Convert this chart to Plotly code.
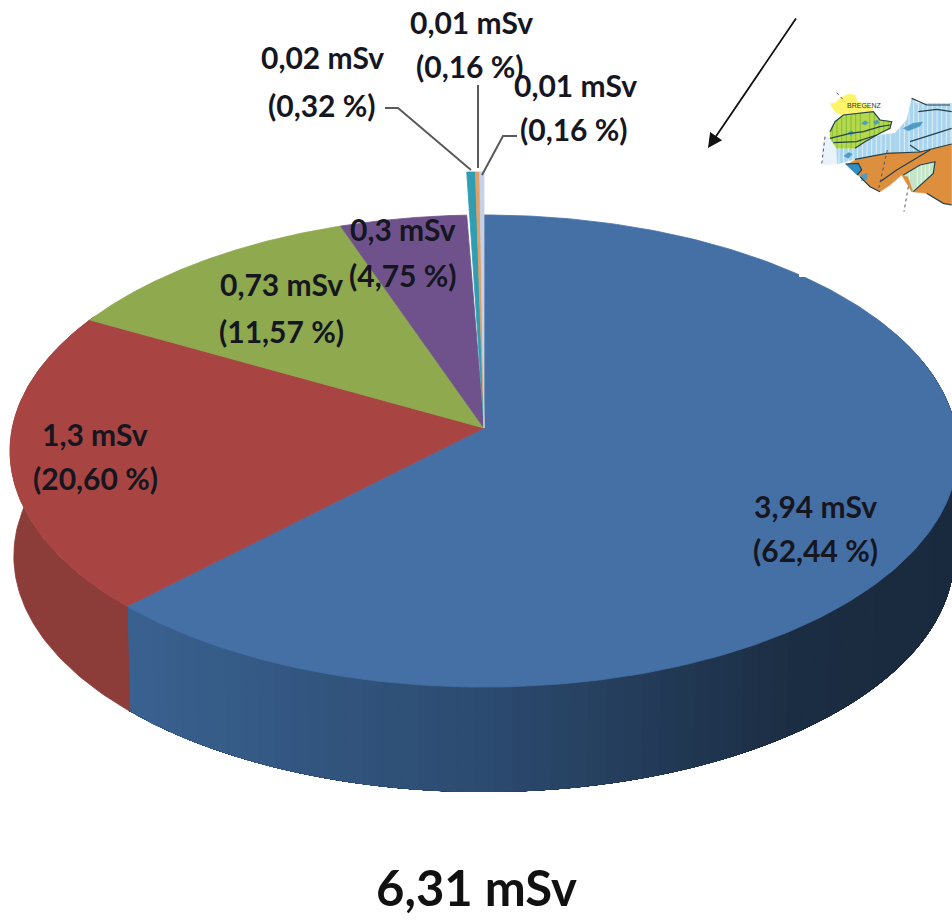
import numpy as np
import plotly.graph_objects as go

# Annual dose shares, clockwise from twelve o'clock
dose_msv = ["3,94", "1,3", "0,73", "0,3", "0,02", "0,01", "0,01"]
share_pct = [62.44, 20.60, 11.57, 4.75, 0.32, 0.16, 0.16]
total_label = "6,31 mSv"
slice_colors = ["#4570A6", "#A84543", "#8EA94E", "#6F528C", "#2F9DB2", "#E0A066", "#C3D2EA"]
wall_stops = [(130, (58, 98, 145)), (500, (44, 75, 112)), (800, (28, 46, 68)), (960, (26, 42, 62))]
red_wall = "#8C3C39"

# Label anchors: line one centre, line two centre
label_xy = [(815, 506, 815, 550), (95, 434, 95, 478), (281, 284, 281, 331), (403, 229, 403, 275),
            (322, 57, 322, 105), (471, 22, 470, 66), (575, 85, 574, 129)]

# Pie projection parameters, in page pixels
CX, CY, RX, RY, K = 484, 428, 471.7, 233.8, 0.0975
DEPTH, FOOT_SCALE, SLIVER_LIFT = 105, 0.992, 43


def rim(theta):
    u, v = np.sin(theta), np.cos(theta)
    d = 1 + K * v
    return CX + RX * u / d, CY - RY * v / d


def foot(theta):
    x, y = rim(theta)
    return CX + (x - CX) * FOOT_SCALE, y + DEPTH


def wall_color(x):
    xs = [s[0] for s in wall_stops]
    rgb = [np.interp(x, xs, [s[1][i] for s in wall_stops]) for i in range(3)]
    return "rgb(%d,%d,%d)" % tuple(rgb)


def poly(x, y, color, width=0.8):
    return go.Scatter(x=list(x), y=list(y), mode="lines", fill="toself", fillcolor=color,
                      line=dict(color=color, width=width), hoverinfo="skip")


edges = 2 * np.pi * np.concatenate([[0], np.cumsum(share_pct)]) / 100
fig = go.Figure()

# Side wall: each blue band runs on under the next one, so no seams show between bands.
# Both ends reach past the silhouette and are hidden by the top face.
start, stop = np.radians(60), np.radians(300)
wall_edges = np.linspace(start, edges[1], 80)
for a in wall_edges[:-1]:
    t = np.linspace(a, edges[1], 60)
    x, y = rim(t)
    fx, fy = foot(t)
    fig.add_trace(poly(np.r_[x, fx[::-1], x[0]], np.r_[y, fy[::-1], y[0]], wall_color(x[0]), 0))
t = np.linspace(edges[1], stop, 80)
x, y = rim(t)
fx, fy = foot(t)
fig.add_trace(poly(np.r_[x, fx[::-1], x[0]], np.r_[y, fy[::-1], y[0]], red_wall))

# Top face of the four large slices
for i in range(4):
    t = np.linspace(edges[i], edges[i + 1], 240)
    x, y = rim(t)
    fig.add_trace(poly(np.r_[CX, x, CX], np.r_[CY, y, CY], slice_colors[i]))

# The three slivers stand proud of the rim
for i in range(4, 7):
    xa, ya = rim(edges[i]); xb, yb = rim(edges[i + 1])
    top = min(ya, yb) - SLIVER_LIFT
    fig.add_trace(poly([CX, xa, xb, CX], [CY, top, top, CY], slice_colors[i]))

# Leader lines
for lx, ly in [([385, 398, 471], [108, 108, 170]),
               ([478, 478], [85, 168]),
               ([517, 503, 482], [136, 136, 175])]:
    fig.add_trace(go.Scatter(x=lx, y=ly, mode="lines", line=dict(color="#5a5a5a", width=2), hoverinfo="skip"))

# White panel that the inset map sits on; it trims the pie's upper right rim
fig.add_trace(poly([799, 952, 952, 799, 799], [60, 60, 277, 277, 60], "white", 0))


# Inset map of the region, outlined in a 3x local grid
def mp(points):
    return [780 + p[0] / 3 for p in points], [70 + p[1] / 3 for p in points]


def stripes(points, step, color, width):
    """Vertical hatch lines clipped to a closed outline."""
    xs = np.array([p[0] for p in points], float)
    ys = np.array([p[1] for p in points], float)
    out_x, out_y = [], []
    for sx in np.arange(xs.min() + step / 2, xs.max(), step):
        hits = []
        for j in range(len(xs) - 1):
            if (xs[j] - sx) * (xs[j + 1] - sx) < 0:
                hits.append(ys[j] + (sx - xs[j]) * (ys[j + 1] - ys[j]) / (xs[j + 1] - xs[j]))
        hits.sort()
        for a, b in zip(hits[0::2], hits[1::2]):
            out_x += [780 + sx / 3, 780 + sx / 3, None]
            out_y += [70 + a / 3, 70 + b / 3, None]
    return go.Scatter(x=out_x, y=out_y, mode="lines", line=dict(color=color, width=width), hoverinfo="skip")


yellow_area = [(150,100),(165,100),(180,85),(205,72),(225,75),(232,95),(250,100),(280,115),(270,125),(210,130),(185,135),(165,125),(150,100)]
pale_area = [(135,200),(150,205),(170,235),(172,282),(130,285),(125,240),(135,200)]
blue_area = [(170,235),(225,235),(255,215),(300,195),(345,190),(380,150),(390,110),(395,85),(410,100),(515,100),(515,222),(420,246),(320,250),(225,268),(172,282),(170,235)]
green_area = [(150,185),(165,155),(190,135),(280,125),(300,150),(335,155),(330,175),(300,190),(255,215),(225,235),(170,235),(150,205),(150,185)]
orange_area = [(225,270),(320,250),(420,245),(515,222),(515,405),(490,400),(440,370),(395,365),(365,315),(330,345),(300,365),(270,350),(240,320),(200,285),(225,270)]
lake_area = [(197,282),(235,280),(245,300),(232,315),(215,300),(197,282)]
valley_area = [(370,315),(420,285),(465,275),(460,310),(400,365),(385,320),(370,315)]
small_lakes = [[(192,258),(205,248),(217,252),(205,265),(192,258)],
               [(245,160),(255,152),(265,158),(255,165),(245,160)],
               [(280,155),(292,150),(298,158),(286,164),(280,155)],
               [(205,188),(215,182),(222,190),(212,196),(205,188)],
               [(370,175),(400,160),(428,156),(420,168),(385,182),(370,175)],
               [(245,315),(262,310),(260,328),(245,332),(245,315)]]

for color, pts in [("#FFF36A", yellow_area), ("#EAF3FA", pale_area), ("#A9D6EE", blue_area),
                   ("#B4DA4C", green_area), ("#DE8F3E", orange_area), ("#2F8FC4", lake_area),
                   ("#C4E6C8", valley_area)]:
    mx, my = mp(pts)
    fig.add_trace(poly(mx, my, color, 0.5))

fig.add_trace(stripes(blue_area, 14, "rgba(255,255,255,0.6)", 1.0))
fig.add_trace(stripes(green_area, 14, "rgba(130,185,60,0.8)", 1.2))
fig.add_trace(stripes(valley_area, 12, "rgba(255,255,255,0.6)", 1.0))
for pts in small_lakes:
    mx, my = mp(pts)
    fig.add_trace(poly(mx, my, "#4E9CC4", 0.6))

map_lines = [
    [(150,185),(165,155),(190,135),(280,125),(300,150),(335,155),(330,175),(300,190),(255,215),(225,235)],
    [(150,205),(210,190),(250,185),(300,170),(330,165)],
    [(160,218),(230,215),(290,195)],
    [(390,215),(450,195),(515,175)],
    [(390,225),(420,245)],
    [(395,85),(440,105),(510,105)],
    [(415,125),(470,118),(515,125)],
    [(225,268),(320,250),(420,246),(515,222)],
    [(370,315),(420,285),(465,275),(460,310),(400,365)],
    [(197,282),(235,280),(245,300),(232,315)],
    [(240,320),(270,350),(300,365)],
    [(440,370),(490,400),(515,405)],
    [(300,335),(350,300),(400,270),(450,240)],
]
for pts in map_lines:
    mx, my = mp(pts)
    fig.add_trace(go.Scatter(x=mx, y=my, mode="lines", line=dict(color="#25414a", width=1.2), hoverinfo="skip"))

for pts in [[(322,240),(295,360)], [(385,350),(372,425)], [(135,200),(125,285)], [(170,68),(195,95)]]:
    mx, my = mp(pts)
    fig.add_trace(go.Scatter(x=mx, y=my, mode="lines", line=dict(color="#556", width=1, dash="dot"), hoverinfo="skip"))

annotations = []
for i, (x1, y1, x2, y2) in enumerate(label_xy):
    pct = f"{share_pct[i]:.2f}".replace(".", ",")
    for x, y, s in [(x1, y1, f"<b>{dose_msv[i]} mSv</b>"), (x2, y2, f"<b>({pct} %)</b>")]:
        annotations.append(dict(x=x, y=y, text=s, showarrow=False, xanchor="center", yanchor="middle",
                                font=dict(family="Lato", size=30, color="#15161f")))
annotations.append(dict(x=476, y=887, text=f"<b>{total_label}</b>", showarrow=False,
                        font=dict(family="Lato", size=49, color="#111111")))
annotations.append(dict(x=864, y=105, text="BREGENZ", showarrow=False,
                        font=dict(family="Liberation Sans", size=7, color="#333333")))
# Pointer arrow
annotations.append(dict(x=708, y=148, ax=797, ay=17, xref="x", yref="y", axref="x", ayref="y",
                        text="", showarrow=True, arrowhead=2, arrowsize=1.6, arrowwidth=1.8, arrowcolor="#111111"))

fig.update_layout(
    width=952, height=920, margin=dict(l=0, r=0, t=0, b=0),
    paper_bgcolor="white", plot_bgcolor="white", showlegend=False,
    xaxis=dict(range=[0, 952], visible=False, fixedrange=True),
    yaxis=dict(range=[920, 0], visible=False, fixedrange=True),
    annotations=annotations,
)
fig.write_html("out.html")
